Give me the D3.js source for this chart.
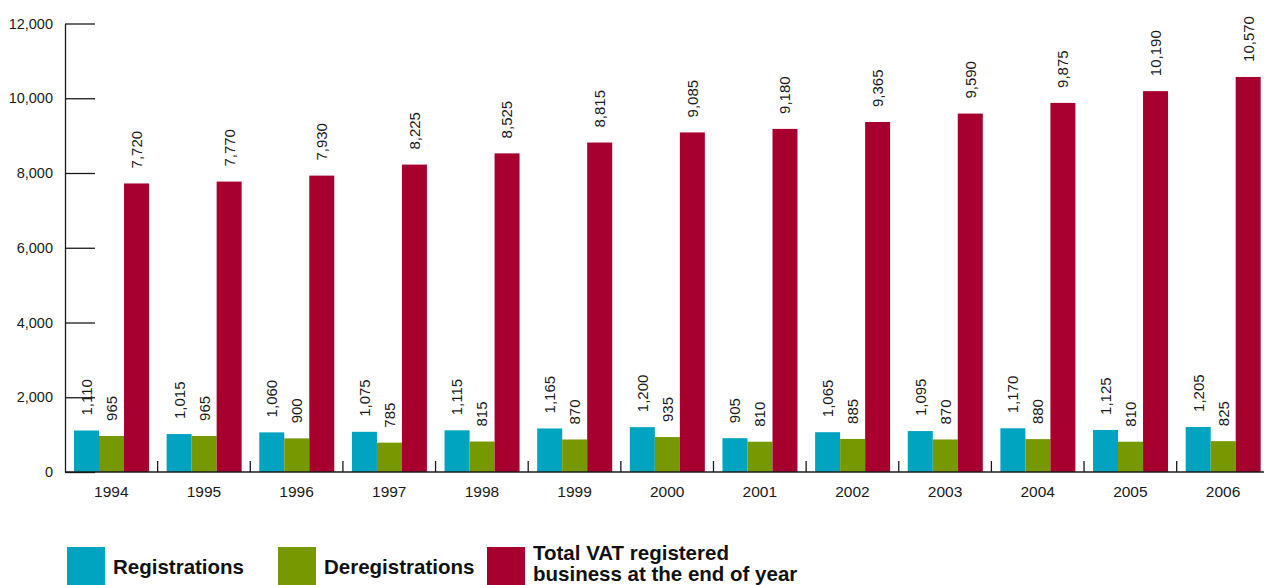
<!DOCTYPE html>
<html>
<head>
<meta charset="utf-8">
<script src="https://cdn.jsdelivr.net/npm/d3@7"></script>
<style>
  body { margin: 0; background: #fff; }
  svg { display: block; font-family: 'Liberation Sans', Arial, sans-serif; }
  .axis path, .axis line { stroke: #1a1a1a; stroke-width: 1.3; }
  .axis text { fill: #1a1a1a; font-size: 14.5px; }
  .val { fill: #1a1a1a; font-size: 15px; }
  .legend text { fill: #111; font-size: 20.5px; font-weight: bold; }
</style>
</head>
<body>
<svg id="chart"></svg>
<script>
const years = ['1994', '1995', '1996', '1997', '1998', '1999', '2000', '2001', '2002', '2003', '2004', '2005', '2006'];
const registrations = [1110, 1015, 1060, 1075, 1115, 1165, 1200, 905, 1065, 1095, 1170, 1125, 1205];
const deregistrations = [965, 965, 900, 785, 815, 870, 935, 810, 885, 870, 880, 810, 825];
const totalVat = [7720, 7770, 7930, 8225, 8525, 8815, 9085, 9180, 9365, 9590, 9875, 10190, 10570];
const yTicks = [0, 2000, 4000, 6000, 8000, 10000, 12000];

const series = [
  { key: 'reg', name: ['Registrations'], values: registrations, color: '#00a3c0' },
  { key: 'dereg', name: ['Deregistrations'], values: deregistrations, color: '#769800' },
  { key: 'total', name: ['Total VAT registered', 'business at the end of year'], values: totalVat, color: '#a8002e' }
];

const W = 1264, H = 585;
const svg = d3.select('#chart').attr('width', W).attr('height', H);

const x0 = 65, step = 92.64;
const xScale = d3.scaleBand().domain(years).range([x0, x0 + step * years.length]).padding(0);
const xInner = d3.scaleBand().domain(series.map(s => s.key)).range([9, 84]).padding(0);
const yScale = d3.scaleLinear().domain([0, 12000]).range([472, 23.5]);

// y axis, ticks pointing inward
svg.append('g').attr('class', 'axis')
  .attr('transform', `translate(${x0},0)`)
  .call(d3.axisLeft(yScale).tickValues(yTicks).tickSize(-30).tickSizeOuter(0)
    .tickPadding(12).tickFormat(d3.format(',')));

// bars + rotated value labels
series.forEach(s => {
  const g = svg.append('g');
  g.selectAll('rect').data(s.values).join('rect')
    .attr('x', (d, i) => xScale(years[i]) + xInner(s.key))
    .attr('width', xInner.bandwidth())
    .attr('y', d => yScale(d))
    .attr('height', d => yScale(0) - yScale(d))
    .attr('fill', s.color);
  g.selectAll('text').data(s.values).join('text')
    .attr('class', 'val')
    .attr('transform', (d, i) => {
      const cx = xScale(years[i]) + xInner(s.key) + xInner.bandwidth() / 2;
      return `translate(${cx},${yScale(d) - 15}) rotate(-90)`;
    })
    .attr('dy', '0.36em')
    .attr('text-anchor', 'start')
    .text(d => d3.format(',')(d));
});

// x axis: labels centred per year, ticks on the boundaries
const xAxisG = svg.append('g').attr('class', 'axis')
  .attr('transform', `translate(0,${yScale(0)})`)
  .call(d3.axisBottom(xScale).tickSize(0).tickPadding(14));
xAxisG.select('.domain').attr('d', `M${x0},0H${W}`);
xAxisG.selectAll('text').style('font-size', '15.5px');
xAxisG.selectAll('.bound').data(years.slice(1)).join('line')
  .attr('class', 'bound')
  .attr('x1', d => xScale(d)).attr('x2', d => xScale(d))
  .attr('y1', 0).attr('y2', -11);

// legend
const legendX = [67, 278, 487];
const legend = svg.append('g').attr('class', 'legend');
series.forEach((s, i) => {
  const g = legend.append('g').attr('transform', `translate(${legendX[i]},547)`);
  g.append('rect').attr('width', 38).attr('height', 40).attr('fill', s.color);
  const t = g.append('text').attr('x', 46);
  if (s.name.length === 1) {
    t.attr('y', 27).text(s.name[0]);
  } else {
    s.name.forEach((line, j) => {
      t.append('tspan').attr('x', 46).attr('y', 13 + j * 21).text(line);
    });
  }
});
</script>
</body>
</html>
